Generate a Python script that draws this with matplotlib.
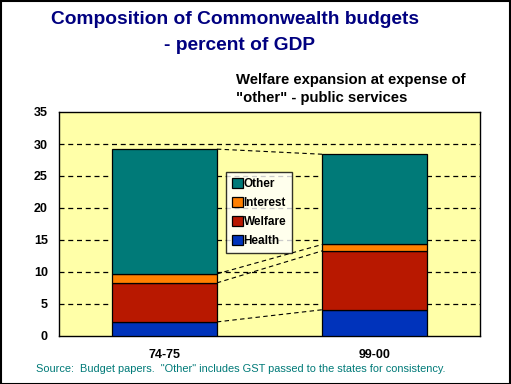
import numpy as np
import matplotlib
matplotlib.use('Agg')
import matplotlib.pyplot as plt
from matplotlib.patches import Rectangle

plt.rcParams['font.family'] = ['Liberation Sans', 'DejaVu Sans']

years = ['74-75', '99-00']
series = ['Health', 'Welfare', 'Interest', 'Other']
health = [2.2, 4.1]
welfare = [6.1, 9.2]
interest = [1.4, 1.0]
other = [19.5, 14.1]
colours = ['#0033BB', '#B81800', '#FF8000', '#007A78']

fig = plt.figure(figsize=(5.11, 3.84), dpi=100)
fig.patch.set_facecolor('white')
fig.add_artist(Rectangle((0.001, 0.001), 0.997, 0.996, transform=fig.transFigure,
                         fill=False, edgecolor='black', linewidth=1.5))

ax = fig.add_axes([59/511., 1-336/384., 421/511., 224/384.])
ax.set_facecolor('#FFFFA8')
xx = np.arange(len(years))
bw = 0.5

# dashed gridlines
for yv in range(5, 35, 5):
    ax.axhline(yv, color='black', linestyle=(0, (4, 3)), linewidth=0.9, zorder=1)

bottom = np.zeros(len(years))
tops = []
for vals, col, lab in zip([health, welfare, interest, other], colours, series):
    ax.bar(xx, vals, bw, bottom=bottom, color=col, edgecolor='black',
           linewidth=0.9, label=lab, zorder=3)
    bottom = bottom + np.array(vals)
    tops.append(bottom.copy())

# series lines between the bars
for tt in tops:
    ax.plot([xx[0]+bw/2, xx[1]-bw/2], [tt[0], tt[1]], color='black',
            linestyle=(0, (4, 3)), linewidth=0.8, zorder=2)

ax.set_xlim(-0.5, 1.5)
ax.set_ylim(0, 35)
ax.set_yticks(np.arange(0, 36, 5))
ax.set_xticks(xx)
ax.set_xticklabels(years, fontweight='bold', fontsize=9)
for lab in ax.get_yticklabels():
    lab.set_fontweight('bold'); lab.set_fontsize(9)
ax.tick_params(axis='both', length=0, pad=8)
ax.tick_params(axis='x', pad=9)
for sp in ax.spines.values():
    sp.set_linewidth(1.0)

hh, ll = ax.get_legend_handles_labels()
leg = ax.legend(hh[::-1], ll[::-1], loc='upper left',
                bbox_to_anchor=((226-59)/421., (336-172)/224.),
                frameon=True, fancybox=False, edgecolor='black',
                prop={'weight': 'bold', 'size': 8.5}, handlelength=0.9,
                handleheight=0.9, handletextpad=0.1, labelspacing=0.6,
                borderpad=0.5, borderaxespad=0)
leg.get_frame().set_linewidth(1.0)
leg.set_zorder(5)

fig.text(235/511., 1-20/384., 'Composition of Commonwealth budgets', ha='center',
         va='center', color='#000080', fontweight='bold', fontsize=13.8)
fig.text(240/511., 1-45/384., '- percent of GDP', ha='center',
         va='center', color='#000080', fontweight='bold', fontsize=13.8)
fig.text(236/511., 1-80/384., 'Welfare expansion at expense of', ha='left',
         va='center', color='black', fontweight='bold', fontsize=10.7)
fig.text(236/511., 1-98/384., '"other" - public services', ha='left',
         va='center', color='black', fontweight='bold', fontsize=10.7)
fig.text(36/511., 1-369/384., 'Source:  Budget papers.  "Other" includes GST passed to the states for consistency.',
         ha='left', va='center', color='#007A78', fontsize=7.9)

fig.savefig('out.png', dpi=100)
